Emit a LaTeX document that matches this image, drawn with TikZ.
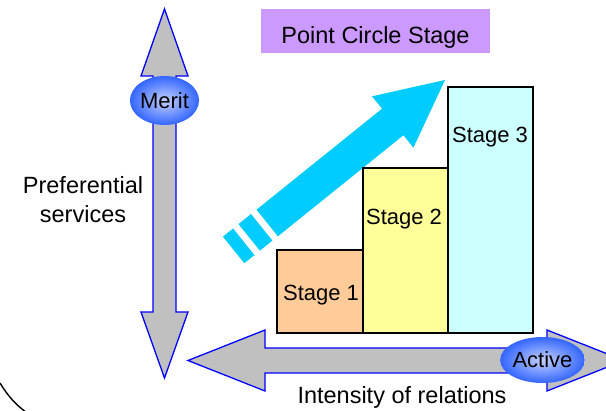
\documentclass[tikz,border=0pt]{standalone}
\usepackage{fontspec}
\setmainfont{Liberation Sans}
\usetikzlibrary{shapes.geometric}
\definecolor{axisgray}{HTML}{C0C0C0}
\definecolor{axisblue}{HTML}{0000FF}
\definecolor{titlepurple}{HTML}{CC99FF}
\definecolor{arrowcyan}{HTML}{00CCFF}
\definecolor{stageone}{HTML}{FFCC99}
\definecolor{stagetwo}{HTML}{FFFF99}
\definecolor{stagethree}{HTML}{CCFFFF}
\definecolor{blobin}{HTML}{C4D0FF}
\definecolor{blobout}{HTML}{3366FF}
\tikzset{
  axisarrow/.style={fill=axisgray, draw=axisblue, line width=1.3pt, line join=miter},
  bar/.style={draw=black, line width=1.8pt},
  bigtext/.style={font=\fontsize{23.5}{29}\selectfont, inner sep=0pt, align=center},
  smalltext/.style={font=\fontsize{22}{26}\selectfont, inner sep=0pt},
  blob/.style={ellipse, inner sep=0pt, shading=radial, inner color=blobin, outer color=blobout, font=\fontsize{22}{26}\selectfont},
}
\begin{document}
\begin{tikzpicture}[x=1pt,y=-1pt]
\useasboundingbox (0,0) rectangle (606,411);
\clip (0,0) rectangle (606,411);
\fill[white] (0,0) rectangle (606,411);

% large outline corner
\draw[line width=1.4pt] (0,383) .. controls (8,396) and (15,404) .. (27,413);

% vertical axis
\draw[axisarrow] (164.5,9) -- (188,76) -- (176,76) -- (176,312) -- (188,312) -- (164.5,378)
  -- (141,312) -- (153,312) -- (153,76) -- (141,76) -- cycle;
% horizontal axis
\draw[axisarrow] (188,360.5) -- (265,330) -- (265,348) -- (547,348) -- (547,330) -- (624,360.5)
  -- (547,391) -- (547,373) -- (265,373) -- (265,391) -- cycle;

% title
\node[fill=titlepurple, minimum width=229pt, minimum height=44pt, inner sep=0pt] (title) at (375.5,31) {};
\node[bigtext] (titletext) at (375.5,37) {Point Circle Stage};

% cyan arrow
\fill[arrowcyan] (445,80) -- (413.4,147.7) -- (403.4,135.3) -- (277.9,236.3) -- (256.5,209.7)
  -- (382,108.7) -- (372,96.3) -- cycle;
\fill[arrowcyan] (272.4,240.6) -- (251,214) -- (238.5,224.1) -- (259.9,250.7) -- cycle;
\fill[arrowcyan] (254.5,255.1) -- (233.1,228.5) -- (222.9,236.6) -- (244.3,263.2) -- cycle;

% bars
\draw[bar, fill=stageone] (277,333) rectangle (363,250);
\draw[bar, fill=stagetwo] (363,333) rectangle (448,168);
\draw[bar, fill=stagethree] (448,333) rectangle (533,87);
\node[smalltext] (s1) at (321,295) {Stage 1};
\node[smalltext] (s2) at (404,219) {Stage 2};
\node[smalltext] (s3) at (490,137) {Stage 3};

% blobs
\node[blob, minimum width=65pt, minimum height=49pt] (merit) at (164.5,100.5) {Merit};
\node[blob, minimum width=81pt, minimum height=46pt] (active) at (542.5,360) {Active};

% labels
\node[bigtext] (pref) at (83,200) {Preferential\\services};
\node[bigtext] (intens) at (402,397) {Intensity of relations};
\end{tikzpicture}
\end{document}
